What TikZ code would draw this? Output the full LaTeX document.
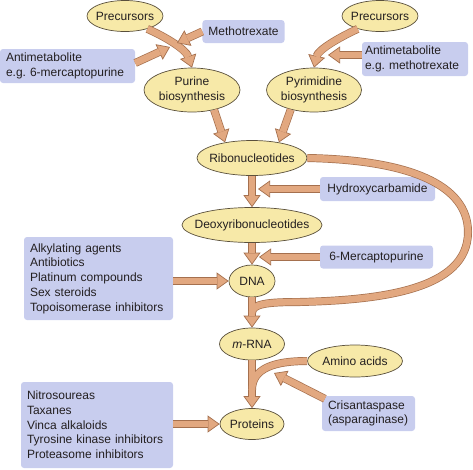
\documentclass[tikz,border=0pt]{standalone}
\usepackage{fontspec}
\setmainfont{Liberation Sans}
\usetikzlibrary{shapes.geometric, arrows.meta}
\definecolor{stagefill}{RGB}{247,233,168}
\definecolor{stageline}{RGB}{90,80,60}
\definecolor{drugfill}{RGB}{200,205,238}
\definecolor{flowfill}{RGB}{226,168,128}
\definecolor{flowline}{RGB}{165,112,78}
\definecolor{ink}{RGB}{35,31,32}
\newcommand{\labfont}{\fontsize{12}{14.7}\selectfont}
\tikzstyle{stage} = [ellipse, draw=stageline, line width=0.7pt, fill=stagefill, inner xsep=-30pt, inner ysep=0pt, align=center, font=\labfont, text=ink]
\tikzstyle{drug} = [rectangle, rounded corners=3pt, fill=drugfill, inner xsep=6pt, inner ysep=0pt, align=left, font=\labfont, text=ink]
\tikzstyle{flow} = [draw=flowline, line width=8pt, -{Triangle[length=12pt, width=17pt, line width=0.7pt, fill=flowfill]}, postaction={draw=flowfill, line width=6.6pt, -, shorten >=11.3pt}]
\tikzstyle{bandout} = [draw=flowline, line width=8pt]
\tikzstyle{bandin} = [draw=flowfill, line width=6.6pt]

\begin{document}
\begin{tikzpicture}[x=1pt, y=-1pt]
    \useasboundingbox (0,0) rectangle (473,469);

    \node[stage, minimum width=76pt, minimum height=31pt] (precL) at (125,16) {Precursors};
    \node[stage, minimum width=76pt, minimum height=31pt] (precR) at (380,16) {Precursors};
    \node[stage, minimum width=96pt, minimum height=44pt] (purine) at (192,90) {Purine\\biosynthesis};
    \node[stage, minimum width=95pt, minimum height=44pt] (pyr) at (314,90) {Pyrimidine\\biosynthesis};
    \node[stage, minimum width=110pt, minimum height=35pt] (ribo) at (252,158) {Ribonucleotides};
    \node[stage, minimum width=140pt, minimum height=35pt] (deoxy) at (252,225) {Deoxyribonucleotides};
    \node[stage, minimum width=46pt, minimum height=32pt] (dna) at (252,281) {DNA};
    \node[stage, minimum width=65pt, minimum height=32pt] (mrna) at (252,344) {\textit{m}-RNA};
    \node[stage, minimum width=95pt, minimum height=32pt] (amino) at (355,361) {Amino acids};
    \node[stage, minimum width=64pt, minimum height=31pt] (prot) at (252,424) {Proteins};

    \node[drug, minimum width=81pt, minimum height=23pt] (metho) at (243.5,31.5) {Methotrexate};
    \node[drug, text width=123pt, minimum height=34pt] (antiL) at (67.5,66) {Antimetabolite\\e.g.\ 6-mercaptopurine};
    \node[drug, inner xsep=3pt, text width=100pt, minimum height=34pt] (antiR) at (415,59) {Antimetabolite\\e.g.\ methotrexate};
    \node[drug, minimum width=115pt, minimum height=24pt] (hydroxy) at (377.5,189) {Hydroxycarbamide};
    \node[drug, minimum width=113pt, minimum height=23pt] (merc) at (376.5,257) {6-Mercaptopurine};
    \node[drug, text width=137pt, minimum height=83pt] (alk) at (98.5,278.5) {Alkylating agents\\Antibiotics\\Platinum compounds\\Sex steroids\\Topoisomerase inhibitors};
    \node[drug, text width=81pt, minimum height=35pt] (cris) at (368.5,413.5) {Crisantaspase\\(asparaginase)};
    \node[drug, text width=140pt, minimum height=86pt] (nitro) at (97,425) {Nitrosoureas\\Taxanes\\Vinca alkaloids\\Tyrosine kinase inhibitors\\Proteasome inhibitors};

    \coordinate (hitM) at (177,43);
    \coordinate (hitAL) at (170,47);
    \coordinate (hitAR) at (328,55);
    \coordinate (hitH) at (258,189);
    \coordinate (hitMP) at (259,257);
    \coordinate (hitC) at (274,373);

    \draw[bandout] (ribo.east) .. controls (410,160) and (468,185) .. (468,232)
        .. controls (468,290) and (380,300) .. (300,302)
        .. controls (266,302) and (252,304) .. (252,313);
    \draw[bandout] (amino.west) .. controls (275,361) and (252,368) .. (252,390);

    \draw[flow] (precL.-30) .. controls (168,38) and (186,50) .. (purine.north);
    \draw[flow] (precR.-150) .. controls (338,38) and (318,50) .. (pyr.north);
    \path (metho.west) edge[flow] (hitM)
        ([yshift=3pt]antiL.east) edge[flow] (hitAL)
        ([yshift=4pt]antiR.west) edge[flow] (hitAR)
        (purine.-42) edge[flow] (ribo.150)
        (pyr.-140) edge[flow] (ribo.30)
        (ribo) edge[flow] (deoxy)
        (hydroxy) edge[flow] (hitH)
        (deoxy) edge[flow] (dna)
        (merc) edge[flow] (hitMP)
        (alk.east |- dna) edge[flow] (dna)
        (dna) edge[flow] (mrna)
        (mrna) edge[flow] (prot)
        ([xshift=3pt,yshift=-3pt]cris.north west) edge[flow] (hitC)
        (nitro.east |- prot) edge[flow] (prot);

    \draw[bandin] (ribo.east) .. controls (410,160) and (468,185) .. (468,232)
        .. controls (468,290) and (380,300) .. (300,302)
        .. controls (266,302) and (252,304) .. (252,313);
    \draw[bandin] (amino.west) .. controls (275,361) and (252,368) .. (252,390);
\end{tikzpicture}
\end{document}
